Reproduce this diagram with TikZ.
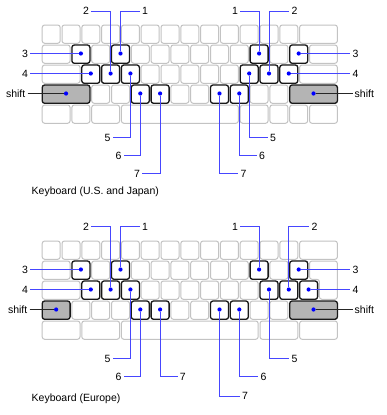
\documentclass[tikz,border=0pt]{standalone}
\usepackage{fontspec}
\setmainfont{Liberation Sans}
\definecolor{keyline}{RGB}{195,195,195}
\definecolor{keydark}{RGB}{25,25,25}
\definecolor{shiftfill}{RGB}{180,180,180}
\definecolor{cblue}{RGB}{70,70,255}
\newcommand\kbkey[5]{% style, ytop, row, pos, width
  \draw[#1] ({42.2+(#4)*19.8},{#2+(#3)*20}) rectangle ({42.2+(#4+#5)*19.8-1.8},{#2+(#3)*20+18.3});}
\begin{document}
\begin{tikzpicture}[x=1pt,y=-1pt,
  keyn/.style={draw=keyline, line width=1pt, fill=white, rounded corners=2.5pt},
  keyh/.style={draw=keydark, line width=1.3pt, fill=white, rounded corners=2.5pt},
  keys/.style={keyh, fill=shiftfill},
  dot/.style={circle, fill=blue, inner sep=0pt, minimum size=4.2pt},
  lab/.style={inner sep=2pt, font=\fontsize{10.5}{12}\selectfont},
  con/.style={draw=cblue, line width=0.9pt},
  shl/.style={draw=black!85, line width=0.9pt}]
\useasboundingbox (0,0) rectangle (386,415);
\fill[white] (0,0) rectangle (386,415);

% ---------- US / Japan keyboard ----------
\foreach \p in {0,...,12} {\kbkey{keyn}{25}{0}{\p}{1}}
\kbkey{keyn}{25}{0}{13}{2}
\kbkey{keyn}{25}{1}{0}{1.5}
\foreach \i in {0,...,11} {\kbkey{keyn}{25}{1}{1.5+\i}{1}}
\kbkey{keyn}{25}{1}{13.5}{1.5}
\kbkey{keyn}{25}{2}{0}{2}
\foreach \i in {0,...,10} {\kbkey{keyn}{25}{2}{2+\i}{1}}
\kbkey{keyn}{25}{2}{13}{2}
\foreach \i in {0,...,9} {\kbkey{keyn}{25}{3}{2.5+\i}{1}}
\foreach \p/\w in {0/1.5,1.5/1,2.5/1.5,4/6,10/1.5,11.5/1,12.5/1,13.5/1.5} {\kbkey{keyn}{25}{4}{\p}{\w}}
% highlighted
\foreach \r/\p in {1/1.5,1/3.5,1/10.5,1/12.5,2/2,2/3,2/4,2/10,2/11,2/12,3/4.5,3/5.5,3/8.5,3/9.5} {\kbkey{keyh}{25}{\r}{\p}{1}}
\kbkey{keys}{25}{3}{0}{2.5}
\kbkey{keys}{25}{3}{12.5}{2.5}

% ---------- Europe keyboard ----------
\foreach \p in {0,...,12} {\kbkey{keyn}{241}{0}{\p}{1}}
\kbkey{keyn}{241}{0}{13}{2}
\kbkey{keyn}{241}{1}{0}{1.5}
\foreach \i in {0,...,11} {\kbkey{keyn}{241}{1}{1.5+\i}{1}}
\draw[keyn] (309.5,261) -- (337.4,261) -- (337.4,299.3) -- (319.4,299.3) -- (319.4,279.3) -- (309.5,279.3) -- cycle;
\kbkey{keyn}{241}{2}{0}{2}
\foreach \i in {0,...,11} {\kbkey{keyn}{241}{2}{2+\i}{1}}
\foreach \i in {0,...,10} {\kbkey{keyn}{241}{3}{1.5+\i}{1}}
\foreach \p/\w in {0/2,2/2,4/7,11/2,13/2} {\kbkey{keyn}{241}{4}{\p}{\w}}
\foreach \r/\p in {1/1.5,1/3.5,1/10.5,1/12.5,2/2,2/3,2/4,2/11,2/12,2/13,3/4.5,3/5.5,3/8.5,3/9.5} {\kbkey{keyh}{241}{\r}{\p}{1}}
\kbkey{keys}{241}{3}{0}{1.5}
\kbkey{keys}{241}{3}{12.5}{2.5}

% ---------- dots US ----------
\node[dot] (ua1) at (120.5,53.5) {};
\node[dot] (ua2) at (110.6,73.5) {};
\node[dot] (ua3) at (80.9,53.5) {};
\node[dot] (ua4) at (90.8,73.5) {};
\node[dot] (ua5) at (130.4,73.5) {};
\node[dot] (ua6) at (140.3,93.5) {};
\node[dot] (ua7) at (160.1,93.5) {};
\node[dot] (uas) at (66.05,93.5) {};
\node[dot] (ub1) at (259.1,53.5) {};
\node[dot] (ub2) at (269,73.5) {};
\node[dot] (ub3) at (298.7,53.5) {};
\node[dot] (ub4) at (288.8,73.5) {};
\node[dot] (ub5) at (249.2,73.5) {};
\node[dot] (ub6) at (239.3,93.5) {};
\node[dot] (ub7) at (219.5,93.5) {};
\node[dot] (ubs) at (313.55,93.5) {};
% ---------- dots Europe ----------
\node[dot] (ea1) at (120.5,269.5) {};
\node[dot] (ea2) at (110.6,289.5) {};
\node[dot] (ea3) at (80.9,269.5) {};
\node[dot] (ea4) at (90.8,289.5) {};
\node[dot] (ea5) at (130.4,289.5) {};
\node[dot] (ea6) at (140.3,309.5) {};
\node[dot] (ea7) at (160.1,309.5) {};
\node[dot] (eas) at (56.15,309.5) {};
\node[dot] (eb1) at (259.1,269.5) {};
\node[dot] (eb2) at (288.8,289.5) {};
\node[dot] (eb3) at (298.7,269.5) {};
\node[dot] (eb4) at (308.6,289.5) {};
\node[dot] (eb5) at (269,289.5) {};
\node[dot] (eb6) at (239.3,309.5) {};
\node[dot] (eb7) at (219.5,309.5) {};
\node[dot] (ebs) at (313.55,309.5) {};

% ---------- labels US ----------
\node[lab] (ta1) at (145,11.3) {1};
\node[lab] (ta2) at (86,11.3) {2};
\node[lab] (ta3) at (25,53.5) {3};
\node[lab] (ta4) at (25,73.5) {4};
\node[lab] (ta5) at (107.5,137.5) {5};
\node[lab] (ta6) at (118.5,155.5) {6};
\node[lab] (ta7) at (137,173.5) {7};
\node[lab, anchor=east] (tas) at (27.5,93.5) {shift};
\node[lab] (tb1) at (235,11.3) {1};
\node[lab] (tb2) at (294.5,11.3) {2};
\node[lab] (tb3) at (355.5,53.5) {3};
\node[lab] (tb4) at (355.5,73.5) {4};
\node[lab] (tb5) at (273,137.5) {5};
\node[lab] (tb6) at (262,155.5) {6};
\node[lab] (tb7) at (243.5,173.5) {7};
\node[lab, anchor=west] (tbs) at (352.5,93.5) {shift};
\node[lab, anchor=base west, inner sep=0pt] (capa) at (31.5,194.3) {Keyboard (U.S. and Japan)};
% ---------- labels Europe ----------
\node[lab] (sa1) at (145,226.8) {1};
\node[lab] (sa2) at (86,226.8) {2};
\node[lab] (sa3) at (25,269.5) {3};
\node[lab] (sa4) at (25,289.5) {4};
\node[lab] (sa5) at (107.5,358.5) {5};
\node[lab] (sa6) at (118.5,376.5) {6};
\node[lab] (sa7) at (182.7,376.5) {7};
\node[lab, anchor=east] (sas) at (29.5,309.5) {shift};
\node[lab] (sb1) at (235,226.8) {1};
\node[lab] (sb2) at (314.5,226.8) {2};
\node[lab] (sb3) at (355.5,269.5) {3};
\node[lab] (sb4) at (355.5,289.5) {4};
\node[lab] (sb5) at (294.5,358.5) {5};
\node[lab] (sb6) at (263.5,376.5) {6};
\node[lab] (sb7) at (245,396) {7};
\node[lab, anchor=west] (sbs) at (352.5,309.5) {shift};
\node[lab, anchor=base west, inner sep=0pt] (cape) at (31.5,401) {Keyboard (Europe)};

% ---------- connectors US ----------
\draw[con] (ua1) |- (ta1);
\draw[con] (ta2) -| (ua2);
\draw[con] (ta3) -- (ua3);
\draw[con] (ta4) -- (ua4);
\draw[con] (ua5) |- (ta5);
\draw[con] (ua6) |- (ta6);
\draw[con] (ua7) |- (ta7);
\draw[shl] (tas) -- (uas);
\draw[con] (tb1) -| (ub1);
\draw[con] (ub2) |- (tb2);
\draw[con] (ub3) -- (tb3);
\draw[con] (ub4) -- (tb4);
\draw[con] (ub5) |- (tb5);
\draw[con] (ub6) |- (tb6);
\draw[con] (ub7) |- (tb7);
\draw[shl] (ubs) -- (tbs);
% ---------- connectors Europe ----------
\draw[con] (ea1) |- (sa1);
\draw[con] (sa2) -| (ea2);
\draw[con] (sa3) -- (ea3);
\draw[con] (sa4) -- (ea4);
\draw[con] (ea5) |- (sa5);
\draw[con] (ea6) |- (sa6);
\draw[con] (ea7) |- (sa7);
\draw[shl] (sas) -- (eas);
\draw[con] (sb1) -| (eb1);
\draw[con] (eb2) |- (sb2);
\draw[con] (eb3) -- (sb3);
\draw[con] (eb4) -- (sb4);
\draw[con] (eb5) |- (sb5);
\draw[con] (eb6) |- (sb6);
\draw[con] (eb7) |- (sb7);
\draw[shl] (ebs) -- (sbs);
\end{tikzpicture}
\end{document}
